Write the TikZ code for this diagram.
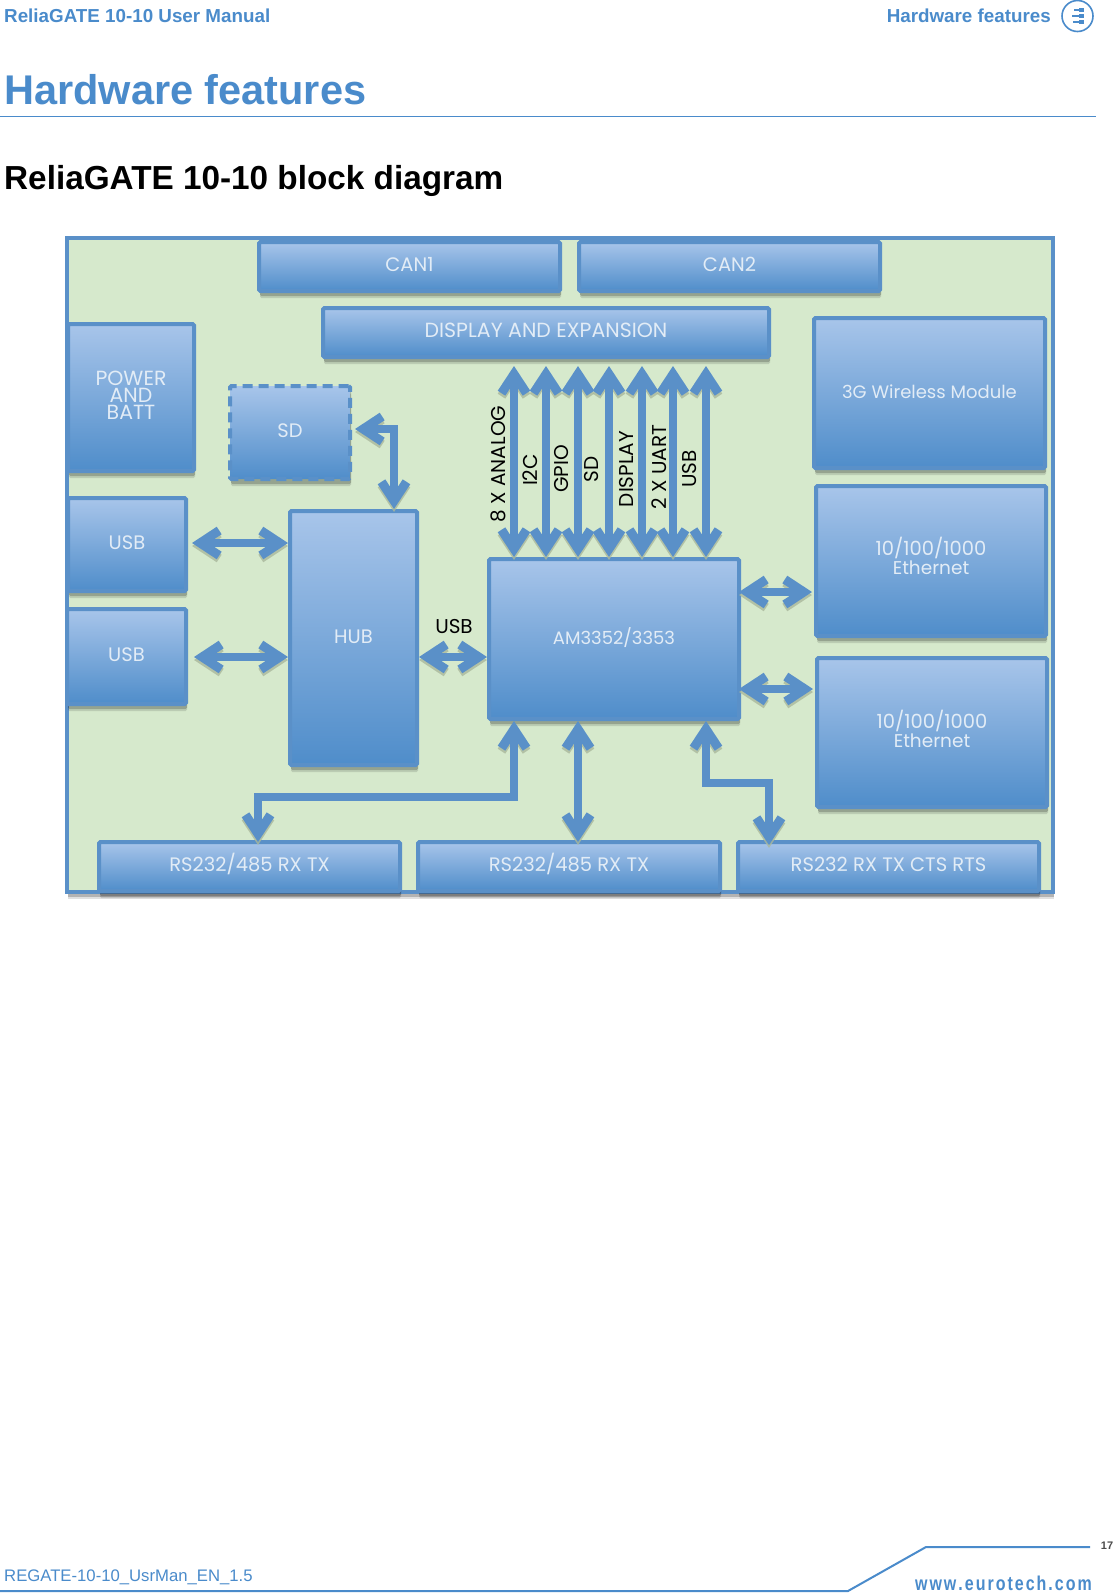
\documentclass[tikz,border=0pt]{standalone}
\usepackage{fontspec}
\usepackage{xcolor}
\usepackage{tikz}
\usetikzlibrary{arrows.meta,shadows}
\setmainfont{Liberation Sans}
\newfontfamily\blockfont{Poppins}
\newfontfamily\webfont[FakeStretch=0.8]{Liberation Sans Bold}
\definecolor{brandblue}{HTML}{4A8BCB}
\definecolor{edgeblue}{HTML}{5A90C8}
\definecolor{topblue}{HTML}{A8C5EA}
\definecolor{botblue}{HTML}{4F8DCA}
\definecolor{boardgreen}{HTML}{D6E9CC}
\definecolor{labelwhite}{HTML}{E2ECF6}
\definecolor{shadegreen}{HTML}{A9B89C}
\begin{document}
\begin{tikzpicture}[x=1pt, y=-1pt,
	softshadow/.style={drop shadow={shadow xshift=1pt, shadow yshift=-7pt, fill=black, opacity=.12}, drop shadow={shadow xshift=1pt, shadow yshift=-5pt, fill=black, opacity=.2}},
	block/.style={draw=edgeblue, line width=4pt, rounded corners=1.5pt, top color=topblue, bottom color=botblue, text=labelwhite, inner sep=0pt, outer sep=2pt, align=center,
		font=\blockfont\fontsize{19.5}{18}\selectfont, softshadow},
	oneline/.style={text height=14pt, text depth=4pt},
	plainname/.style={font=\blockfont\fontsize{18}{18}\selectfont},
	widename/.style={font=\blockfont\fontsize{20.5}{18}\selectfont},
	busname/.style={text=black, inner sep=0pt, font=\blockfont\fontsize{20}{20}\selectfont},
	duplex/.style={draw=edgeblue, line width=8pt, line join=miter, {Straight Barb[length=19pt,width=25pt,line width=9pt]}-{Straight Barb[length=19pt,width=25pt,line width=9pt]},
		preaction={draw=shadegreen, opacity=.8, transform canvas={yshift=-3pt}}},
	pagetext/.style={inner sep=0pt, anchor=base west, text=brandblue}]
	\useasboundingbox (0,0) rectangle (1114,1593);
	\fill[white] (0,0) rectangle (1114,1593);

	\node[pagetext, font=\bfseries\fontsize{18.8}{20}\selectfont] (doctitle) at (4,22) {ReliaGATE 10-10 User Manual};
	\node[pagetext, anchor=base east, font=\bfseries\fontsize{18.8}{20}\selectfont] (chaptertitle) at (1051,22) {Hardware features};
	\node[draw=brandblue, line width=1.6pt, circle, minimum size=31pt, inner sep=0pt] (tocicon) at (1077.5,16) {};
	\foreach \py/\pa in {10/1074,16/1072,22/1073}
		\draw[brandblue, line width=1.4pt] (\pa,\py) -- (1084,\py);
	\foreach \py in {10,16,22}
		\fill[brandblue] (1079,\py-2) rectangle (1084,\py+2);
	\node[pagetext, font=\bfseries\fontsize{41.5}{42}\selectfont] (heading) at (4,104) {Hardware features};
	\draw[brandblue, line width=1.2pt] (0,116.5) -- (1096,116.5);
	\node[pagetext, text=black, font=\bfseries\fontsize{33.3}{34}\selectfont] (subheading) at (4,189) {ReliaGATE 10-10 block diagram};

	\node[draw=edgeblue, line width=4pt, fill=boardgreen, inner sep=0pt, minimum width=986pt, minimum height=654pt, softshadow] (board) at (559.5,565) {};

	\node[block, oneline, minimum width=301pt, minimum height=49pt] (can1) at (409.5,266.5) {CAN1};
	\node[block, oneline, minimum width=301pt, minimum height=49pt] (can2) at (729.5,266.5) {CAN2};
	\node[block, oneline, widename, minimum width=446pt, minimum height=49pt] (display) at (546,332.5) {DISPLAY AND EXPANSION};
	\node[block, widename, text height=48pt, text depth=5pt, minimum width=126pt, minimum height=147pt] (power) at (131,397.5) {POWER\\[-1pt]AND\\[-1pt]BATT};
	\node[block, oneline, minimum width=118pt, minimum height=93pt] (usb1) at (127,544.5) {USB};
	\node[block, oneline, minimum width=119pt, minimum height=95pt] (usb2) at (126.5,656.5) {USB};
	\node[block, oneline, minimum width=127pt, minimum height=254pt] (hub) at (353.5,638) {HUB};
	\node[block, oneline, plainname, minimum width=250pt, minimum height=160pt] (am) at (614,639) {AM3352/3353};
	\node[block, oneline, plainname, minimum width=231pt, minimum height=150pt] (wireless) at (929.5,393) {3G Wireless Module};
	\node[block, text height=32pt, text depth=5pt, minimum width=230pt, minimum height=150pt] (eth1) at (931,561) {10/100/1000\\[1pt]{\fontsize{18.5}{18}\selectfont Ethernet}};
	\node[block, text height=34pt, text depth=5pt, minimum width=230pt, minimum height=149pt] (eth2) at (932,732.5) {10/100/1000\\[1pt]{\fontsize{18.5}{18}\selectfont Ethernet}};
	\node[block, oneline, minimum width=301pt, minimum height=49pt] (rs1) at (249.5,866.5) {RS232/485 RX TX};
	\node[block, oneline, minimum width=302pt, minimum height=49pt] (rs2) at (569,866.5) {RS232/485 RX TX};
	\node[block, oneline, minimum width=301pt, minimum height=49pt] (rs3) at (888.5,866.5) {RS232 RX TX CTS RTS};
	\node[block, oneline, dashed, dash pattern=on 10pt off 6pt, minimum width=120pt, minimum height=93pt] (sd) at (290,432.5) {SD};

	\foreach \busid/\px in {a/514,b/546,c/578,d/609,e/642,f/673,g/706}{
		\coordinate (bus\busid) at (\px,366);
		\draw[duplex] (bus\busid) -- (bus\busid |- am.north);
	}
	\node[busname, rotate=90] (lanalog) at (498,464) {8 X ANALOG};
	\node[busname, rotate=90] (li2c) at (530,470) {I2C};
	\node[busname, rotate=90] (lgpio) at (562,469) {GPIO};
	\node[busname, rotate=90] (lsd) at (592,469.5) {SD};
	\node[busname, rotate=90] (ldisplay) at (627,469) {DISPLAY};
	\node[busname, rotate=90] (luart) at (659,467) {2 X UART};
	\node[busname, rotate=90] (lusb) at (690,469) {USB};
	\node[busname] (lhub) at (454,627) {USB};

	\draw[duplex, shorten <=3pt] (sd.east |- 0,429) -| (hub.north -| 394,0);
	\draw[duplex, shorten <=4pt] (usb1.east |- 0,543) -- (hub.west |- 0,543);
	\draw[duplex, shorten <=6pt] (usb2.east |- 0,657) -- (hub.west |- 0,657);
	\draw[duplex] (hub.east |- 0,657) -- (am.west |- 0,657);
	\draw[duplex, shorten <=-2pt, shorten >=2pt] (am.east |- 0,592) -- (eth1.west |- 0,592);
	\draw[duplex, shorten <=-2pt, shorten >=2pt] (am.east |- 0,689) -- (eth2.west |- 0,689);
	\draw[duplex, shorten >=-2pt] (am.south -| busa) |- (258,797) -- (rs1.north -| 258,0);
	\draw[duplex, shorten >=-2pt] (am.south -| busc) -- (rs2.north -| busc);
	\draw[duplex, shorten >=-5pt] (am.south -| busg) |- (769,783) -- (rs3.north -| 769,0);

	\node[pagetext, font=\fontsize{16.7}{18}\selectfont] (footname) at (4,1581) {REGATE-10-10\_UsrMan\_EN\_1.5};
	\draw[brandblue, line width=2pt] (0,1591) -- (848,1591) -- (926,1547) -- (1090,1547);
	\node[pagetext, anchor=base east, font=\webfont\fontsize{20}{20}\selectfont] (footweb) at (1092,1590) {w\kern2pt w\kern2pt w\kern2pt .\kern2pt e\kern2pt u\kern2pt r\kern2pt o\kern2pt t\kern2pt e\kern2pt c\kern2pt h\kern2pt .\kern2pt c\kern2pt o\kern2pt m};
	\node[inner sep=0pt, text=black!70, font=\bfseries\fontsize{11}{11}\selectfont] (pagenum) at (1107,1546) {17};
\end{tikzpicture}
\end{document}
